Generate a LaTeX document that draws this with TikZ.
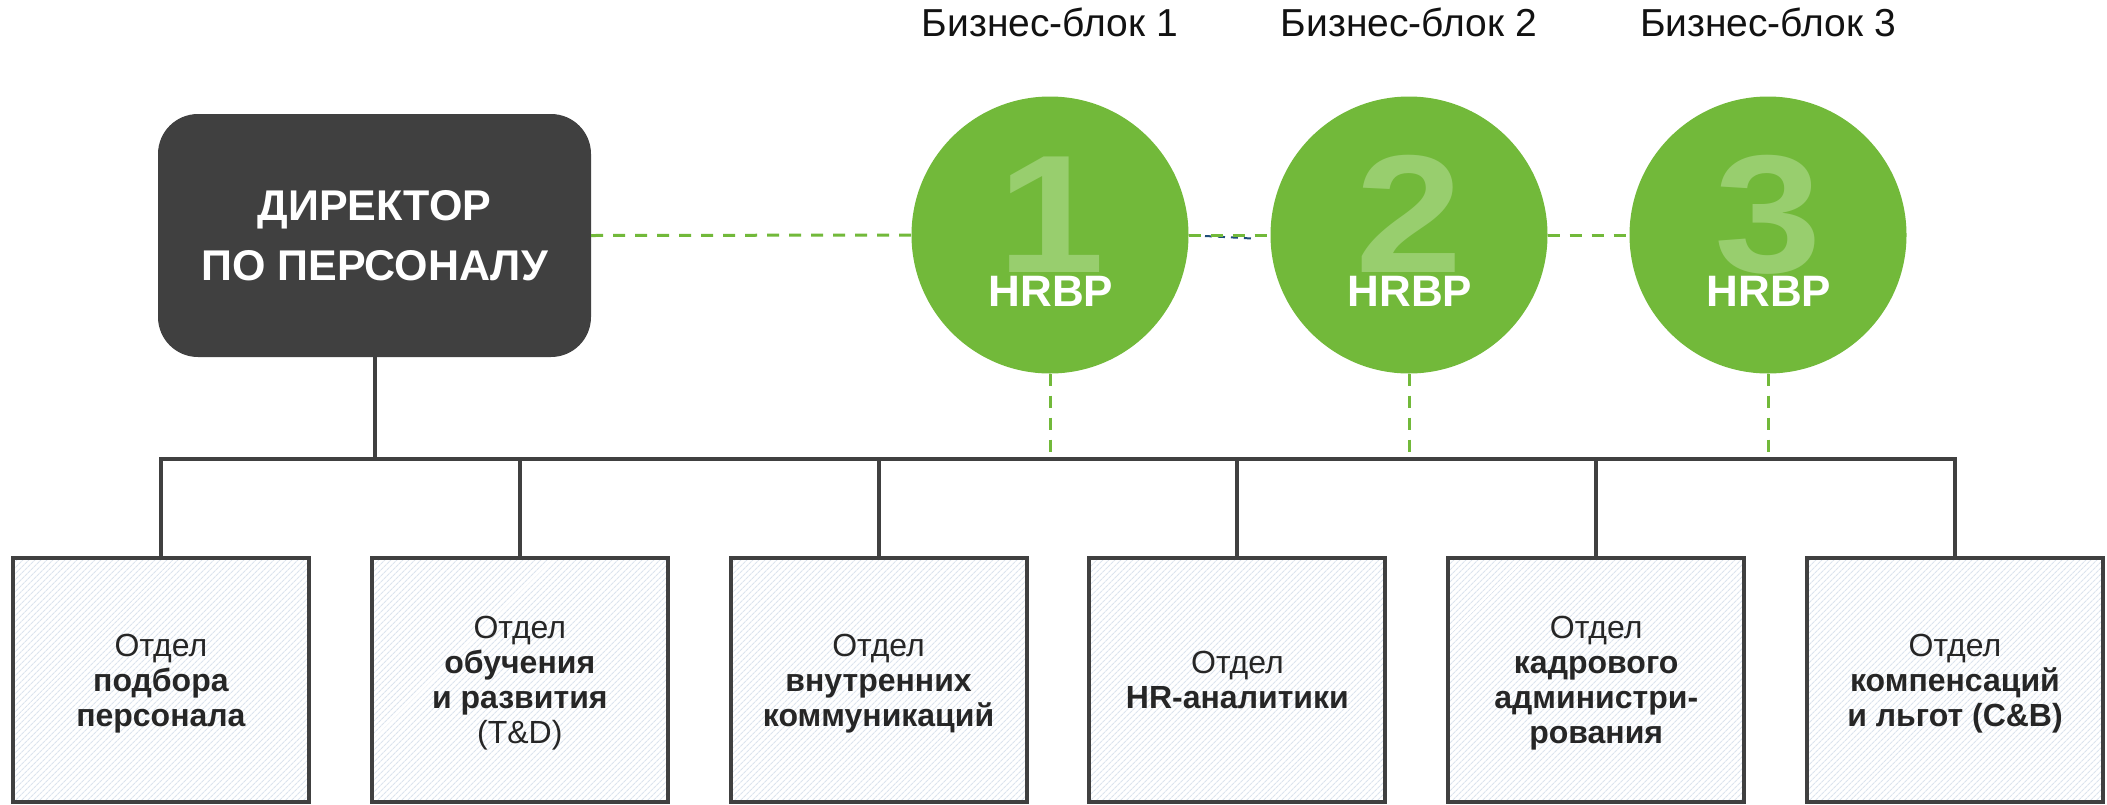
\documentclass[tikz,border=0pt]{standalone}
\usepackage{fontspec}
\setmainfont{Liberation Sans}
\usetikzlibrary{patterns.meta}
\definecolor{dark}{HTML}{404040}
\definecolor{hrgreen}{HTML}{72B93A}
\definecolor{lightgreen}{HTML}{98CE6E}
\definecolor{stripe}{HTML}{DCE4EE}
\definecolor{boxtext}{HTML}{262626}
\definecolor{artblue}{HTML}{1F4E79}
\begin{document}
\begin{tikzpicture}[x=1pt,y=-1pt,
  director/.style={fill=dark, rounded corners=40pt, minimum width=433pt, minimum height=243pt, inner sep=0pt, text=white, font=\fontsize{43}{60}\selectfont\bfseries, align=center, text depth=0pt},
  hrcircle/.style={circle, fill=hrgreen, minimum size=277pt, inner sep=0pt},
  bignum/.style={text=lightgreen, font=\fontsize{168}{168}\selectfont\bfseries, inner sep=0pt, anchor=base, text depth=0pt},
  hrbp/.style={text=white, font=\fontsize{44}{44}\selectfont\bfseries, inner sep=0pt, anchor=base, text height=31pt},
  blocklabel/.style={text=black!93, font=\fontsize{39}{39}\selectfont, inner sep=0pt, anchor=base},
  dept/.style={draw=dark, line width=4pt, preaction={fill=white}, pattern={Lines[angle=45,distance=4pt,line width=1.1pt]}, pattern color=stripe, minimum width=296pt, minimum height=244pt, inner sep=0pt, align=center, text=boxtext, font=\fontsize{32}{35}\selectfont, text depth=0pt},
  gdash/.style={draw=hrgreen, line width=3pt, dash pattern=on 12pt off 10pt},
  orgline/.style={draw=dark, line width=4pt, line join=miter},
  artline/.style={draw=artblue, line width=2pt, dash pattern=on 7pt off 6pt},
]
\useasboundingbox (0,0) rectangle (2107,804);

% director
\node[director] (dir) at (374.5,235.5) {ДИРЕКТОР\\ПО ПЕРСОНАЛУ};

% HRBP circles
\node[hrcircle] (c1) at (1050,235) {};
\node[hrcircle] (c2) at (1409,235) {};
\node[hrcircle] (c3) at (1768,235) {};
\node[bignum] (n1) at (1051,272) {\scalebox{1.15}[1]{1}};
\node[bignum] (n2) at (1409,272) {\scalebox{1.15}[1]{2}};
\node[bignum] (n3) at (1768,272) {\scalebox{1.15}[1]{3}};
\node[hrbp] (h1) at (1051,306) {HRBP};
\node[hrbp] (h2) at (1410,306) {HRBP};
\node[hrbp] (h3) at (1769,306) {HRBP};

% business block labels
\node[blocklabel] (l1) at (1050,36) {Бизнес-блок 1};
\node[blocklabel] (l2) at (1409,36) {Бизнес-блок 2};
\node[blocklabel] (l3) at (1768,36) {Бизнес-блок 3};

% departments
\node[dept] (b1) at (161,680) {Отдел\\\textbf{подбора}\\\textbf{персонала}};
\node[dept] (b2) at (519.8,680) {Отдел\\\textbf{обучения}\\\textbf{и развития}\\(T\&D)};
\node[dept] (b3) at (878.6,680) {Отдел\\\textbf{внутренних}\\\textbf{коммуникаций}};
\node[dept] (b4) at (1237.4,680) {Отдел\\\textbf{HR-аналитики}};
\node[dept] (b5) at (1596.2,680) {Отдел\\\textbf{кадрового}\\\textbf{администри-}\\\textbf{рования}};
\node[dept] (b6) at (1955,680) {Отдел\\\textbf{компенсаций}\\\textbf{и льгот (C\&B)}};

\coordinate (bus) at (161,459);

% artifact dashes
\coordinate (a1) at (1205,236);
\coordinate (a2) at (1252,238.5);
\draw[artline] (a1) -- (a2);

% dashed green connectors
\draw[gdash] (dir.east) -- (c1.west);
\draw[gdash] (c1.east) -- (c2.west);
\draw[gdash] (c2.east) -- (c3.west);
\draw[gdash] (c1.south) -- (c1.south |- bus);
\draw[gdash] (c2.south) -- (c2.south |- bus);
\draw[gdash] (c3.south) -- (c3.south |- bus);

% org lines
\draw[orgline] (b1.north) -- (b1.north |- bus) -- (b6.north |- bus) -- (b6.north);
\draw[orgline] (dir.south) -- (dir.south |- bus);
\draw[orgline] (b2.north) -- (b2.north |- bus);
\draw[orgline] (b3.north) -- (b3.north |- bus);
\draw[orgline] (b4.north) -- (b4.north |- bus);
\draw[orgline] (b5.north) -- (b5.north |- bus);
\end{tikzpicture}
\end{document}
